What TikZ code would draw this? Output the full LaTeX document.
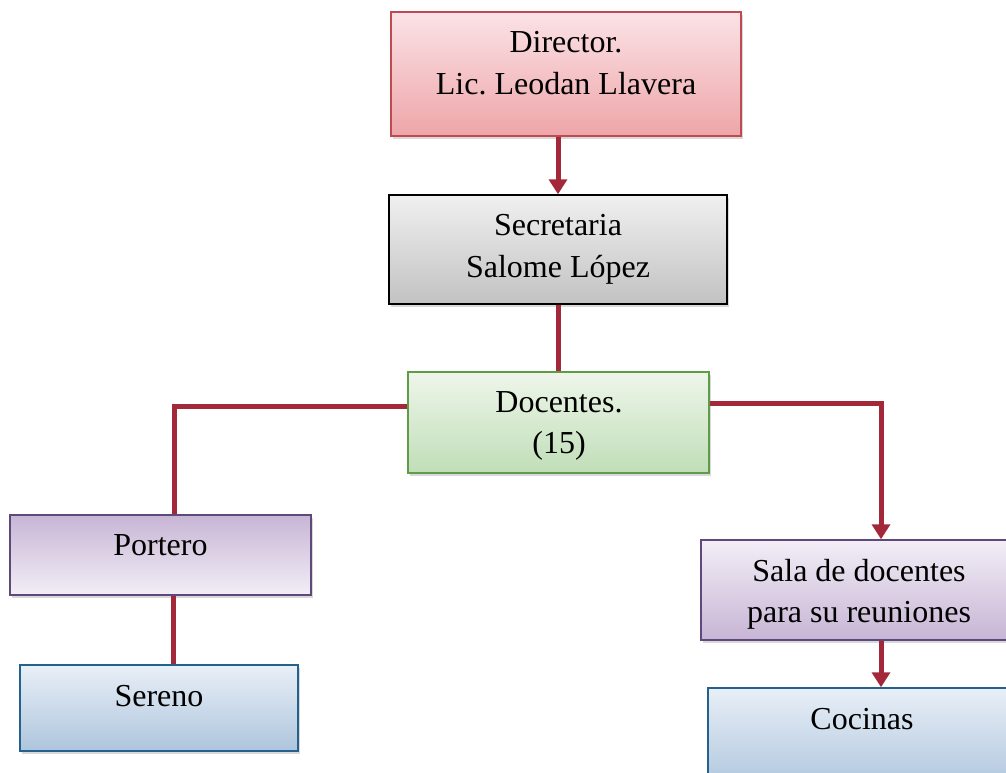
\documentclass[tikz,border=0pt]{standalone}
\usepackage{fontspec}
\setmainfont{Liberation Serif}
\frenchspacing
\usetikzlibrary{arrows.meta,shadows}
\definecolor{connc}{HTML}{A3293A}
\definecolor{dirtop}{HTML}{FBE3E6}
\definecolor{dirbot}{HTML}{EEA5A9}
\definecolor{dirline}{HTML}{BF4B52}
\definecolor{sectop}{HTML}{F0F0F0}
\definecolor{secbot}{HTML}{C2C2C2}
\definecolor{doctop}{HTML}{EEF6EA}
\definecolor{docbot}{HTML}{C0DEB8}
\definecolor{docline}{HTML}{5E9C48}
\definecolor{purdark}{HTML}{C7B5D5}
\definecolor{purlight}{HTML}{F2EEF6}
\definecolor{purline}{HTML}{5F497A}
\definecolor{bluetop}{HTML}{E8EFF7}
\definecolor{bluebot}{HTML}{AEC5DD}
\definecolor{blueline}{HTML}{24618C}
\begin{document}
\begin{tikzpicture}[x=1pt,y=-1pt,
  box/.style={draw, line width=1.5pt, rectangle, inner sep=0pt,
    drop shadow={shadow xshift=2pt, shadow yshift=-3pt, opacity=0.3}},
  txt/.style={anchor=base, inner sep=0pt, font=\fontsize{32}{42}\selectfont},
  conn/.style={draw=connc, line width=5pt},
  arr/.style={conn, -{Triangle[width=18pt,length=15pt]}}]
\useasboundingbox (0,0) rectangle (1006,772);

% boxes
\node[box, draw=dirline, top color=dirtop, bottom color=dirbot,
  minimum width=350pt, minimum height=124pt] (dir) at (566,74) {};
\node[box, draw=black, top color=sectop, bottom color=secbot,
  minimum width=338pt, minimum height=109pt] (sec) at (558,249.5) {};
\node[box, draw=docline, top color=doctop, bottom color=docbot,
  minimum width=301pt, minimum height=101pt] (doc) at (558.5,422.5) {};
\node[box, draw=purline, top color=purdark, bottom color=purlight,
  minimum width=301pt, minimum height=80pt] (por) at (160.5,555) {};
\node[box, draw=blueline, top color=bluetop, bottom color=bluebot,
  minimum width=278pt, minimum height=86pt] (ser) at (159,708) {};
\node[box, draw=purline, top color=purlight, bottom color=purdark,
  minimum width=312pt, minimum height=100pt] (sala) at (857,590) {};
\node[box, draw=blueline, top color=bluetop, bottom color=bluebot,
  minimum width=308pt, minimum height=102pt] (coc) at (862,739) {};

% connectors
\draw[arr] (dir.south -| sec.north) -- (sec.north);
\draw[conn] (sec.south) -- (sec.south |- doc.north);
\draw[conn] ([yshift=16.5pt]doc.west) -| ([xshift=14pt]por.north);
\draw[arr] ([yshift=19.5pt]doc.east) -| ([xshift=24pt]sala.north);
\draw[conn] ([xshift=12.5pt]por.south) -- ([xshift=12.5pt]por.south |- ser.north);
\draw[arr] ([xshift=24pt]sala.south) -- ([xshift=24pt]sala.south |- coc.north);

% texts
\node[txt] (dirA) at (566,52) {Director.};
\node[txt] (dirB) at (566,94) {Lic. Leodan Llavera};
\node[txt] (secA) at (558,235) {Secretaria};
\node[txt] (secB) at (558,277) {Salome López};
\node[txt] (docA) at (559,412) {Docentes.};
\node[txt] (docB) at (559,453) {(15)};
\node[txt] (porA) at (160.5,555) {Portero};
\node[txt] (serA) at (159,706) {Sereno};
\node[txt] (salA) at (859,581) {Sala de docentes};
\node[txt] (salB) at (859,622) {para su reuniones};
\node[txt] (cocA) at (862,729) {Cocinas};
\end{tikzpicture}
\end{document}
